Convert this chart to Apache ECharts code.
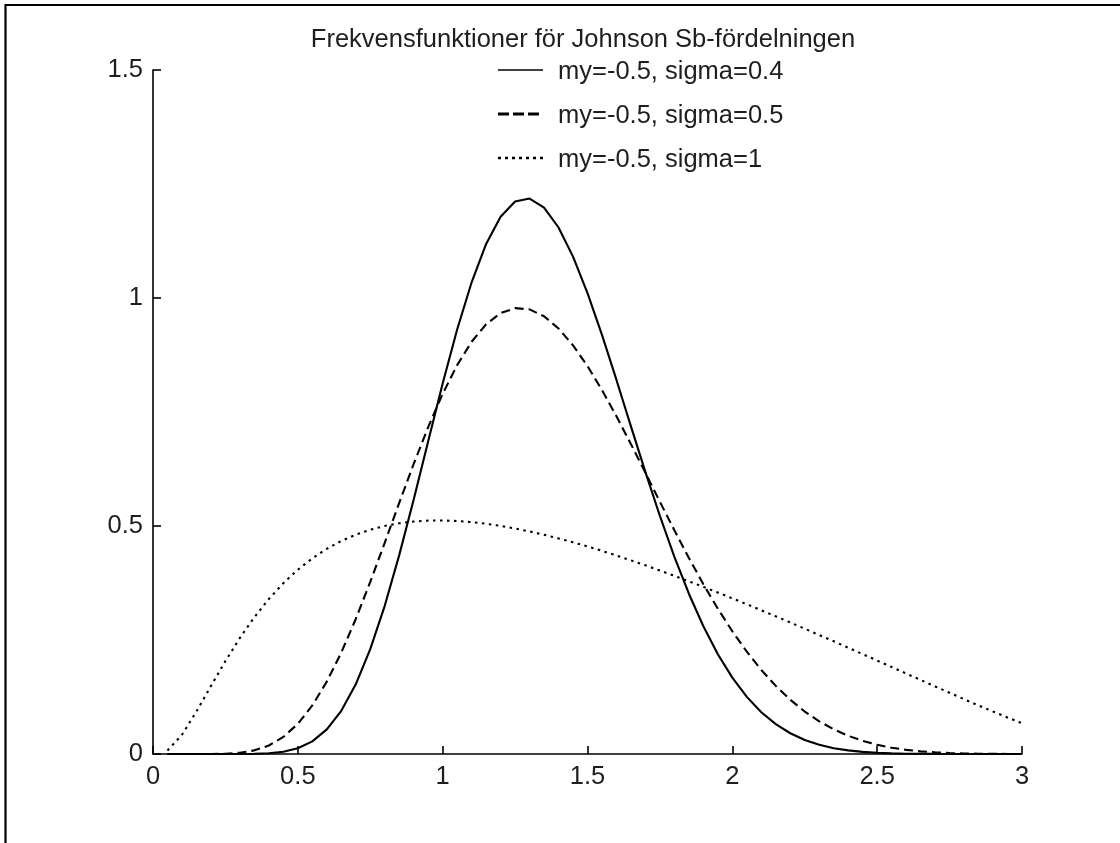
<!DOCTYPE html>
<html>
<head>
<meta charset="utf-8">
<script src="https://cdn.jsdelivr.net/npm/echarts@6/dist/echarts.min.js"></script>
<style>
  html, body { margin: 0; padding: 0; background: #ffffff; }
  #chart { width: 1120px; height: 843px; }
</style>
</head>
<body>
<div id="chart"></div>
<script>
// ---- data ----
const titleText = 'Frekvensfunktioner för Johnson Sb-fördelningen';
const seriesNames = ['my=-0.5, sigma=0.4', 'my=-0.5, sigma=0.5', 'my=-0.5, sigma=1'];

const xValues = [
  0.05, 0.10, 0.15, 0.20, 0.25, 0.30, 0.35, 0.40, 0.45, 0.50,
  0.55, 0.60, 0.65, 0.70, 0.75, 0.80, 0.85, 0.90, 0.95, 1.00,
  1.05, 1.10, 1.15, 1.20, 1.25, 1.30, 1.35, 1.40, 1.45, 1.50,
  1.55, 1.60, 1.65, 1.70, 1.75, 1.80, 1.85, 1.90, 1.95, 2.00,
  2.05, 2.10, 2.15, 2.20, 2.25, 2.30, 2.35, 2.40, 2.45, 2.50,
  2.55, 2.60, 2.65, 2.70, 2.75, 2.80, 2.85, 2.90, 2.95, 3.00
];

const sigma04 = [
  0, 0, 0, 0, 0, 0.0001, 0.0004, 0.0016, 0.0049, 0.0126,
  0.0278, 0.0540, 0.0948, 0.1529, 0.2299, 0.3250, 0.4361, 0.5581, 0.6859, 0.8124,
  0.9308, 1.0345, 1.1185, 1.1782, 1.2116, 1.2180, 1.1982, 1.1546, 1.0908, 1.0107,
  0.9190, 0.8203, 0.7186, 0.6182, 0.5219, 0.4323, 0.3515, 0.2801, 0.2188, 0.1674,
  0.1253, 0.0916, 0.0654, 0.0455, 0.0308, 0.0202, 0.0128, 0.0079, 0.0047, 0.0027,
  0.0014, 0.0007, 0.0004, 0.0002, 0.0001, 0, 0, 0, 0, 0
];

const sigma05 = [
  0, 0, 0, 0.0001, 0.0007, 0.0027, 0.0080, 0.0187, 0.0374, 0.0661,
  0.1065, 0.1588, 0.2224, 0.2961, 0.3773, 0.4632, 0.5507, 0.6361, 0.7168, 0.7898,
  0.8529, 0.9041, 0.9424, 0.9669, 0.9777, 0.9751, 0.9599, 0.9331, 0.8962, 0.8506,
  0.7982, 0.7407, 0.6795, 0.6166, 0.5531, 0.4905, 0.4300, 0.3724, 0.3186, 0.2691,
  0.2243, 0.1843, 0.1493, 0.1189, 0.0931, 0.0717, 0.0541, 0.0399, 0.0288, 0.0202,
  0.0138, 0.0091, 0.0058, 0.0036, 0.0021, 0.0012, 0.0006, 0.0003, 0.0001, 0.0001
];

const sigma1 = [
  0.0076, 0.0421, 0.0931, 0.1490, 0.2038, 0.2545, 0.3000, 0.3400, 0.3746, 0.4041,
  0.4291, 0.4500, 0.4672, 0.4810, 0.4919, 0.5001, 0.5060, 0.5098, 0.5118, 0.5122,
  0.5110, 0.5085, 0.5049, 0.5002, 0.4945, 0.4881, 0.4808, 0.4728, 0.4642, 0.4551,
  0.4454, 0.4352, 0.4247, 0.4137, 0.4024, 0.3907, 0.3787, 0.3665, 0.3540, 0.3413,
  0.3284, 0.3152, 0.3019, 0.2884, 0.2747, 0.2610, 0.2471, 0.2331, 0.2190, 0.2049,
  0.1907, 0.1765, 0.1623, 0.1482, 0.1342, 0.1202, 0.1065, 0.0931, 0.0800, 0.0674
];

// ---- chart ----
const FONT = '"Liberation Sans", Arial, Helvetica, sans-serif';
const TXT = '#1e1e1e';
const FS = 25.5;

function pairs(ys) { return xValues.map((x, i) => [x, ys[i]]); }

// line styles for the three curves and their legend swatches
const curveStyles = [
  { width: 2.1, dash: null },
  { width: 2.1, dash: [9, 5] },
  { width: 2.1, dash: [2.5, 4.5] }
];
const swatchStyles = [
  { width: 1.4, dash: null },
  { width: 3, dash: [11, 4] },
  { width: 2.3, dash: [3, 4] }
];

const chart = echarts.init(document.getElementById('chart'), null, { renderer: 'canvas' });

const axisCommon = {
  type: 'value',
  axisLine: { show: true, onZero: false, lineStyle: { color: '#000', width: 1.6 } },
  axisTick: { show: true, inside: true, length: 8, lineStyle: { color: '#000', width: 1.6 } },
  splitLine: { show: false },
  axisLabel: { color: TXT, fontSize: FS, fontFamily: FONT, margin: 10 }
};

// legend drawn as graphic elements (MATLAB-style legend without box)
const legendLeft = 498, legendTop = 70, legendRow = 44, swatchLen = 45, textGap = 15, textShift = 2;
const legendGraphics = [];
seriesNames.forEach((name, i) => {
  const cy = legendTop + i * legendRow;
  legendGraphics.push({
    type: 'line',
    shape: { x1: legendLeft, y1: cy, x2: legendLeft + swatchLen, y2: cy },
    style: { stroke: '#000', lineWidth: swatchStyles[i].width, lineDash: swatchStyles[i].dash },
    silent: true
  });
  legendGraphics.push({
    type: 'text',
    x: legendLeft + swatchLen + textGap,
    y: cy + textShift,
    style: { text: name, font: FS + 'px ' + FONT, fill: TXT, align: 'left', verticalAlign: 'middle' },
    silent: true
  });
});

chart.setOption({
  animation: false,
  backgroundColor: '#ffffff',
  grid: { left: 153, right: 98, top: 70, bottom: 89, containLabel: false },
  xAxis: Object.assign({}, axisCommon, { min: 0, max: 3, interval: 0.5 }),
  yAxis: Object.assign({}, axisCommon, { min: 0, max: 1.5, interval: 0.5 }),
  legend: { show: false },
  graphic: [
    {
      type: 'polyline',
      shape: { points: [[5.5, 843], [5.5, 5], [1120, 5]] },
      style: { stroke: '#000', lineWidth: 2.2, fill: null },
      silent: true
    },
    {
      type: 'text',
      x: 583,
      y: 40,
      style: { text: titleText, font: FS + 'px ' + FONT, fill: TXT, align: 'center', verticalAlign: 'middle' },
      silent: true
    }
  ].concat(legendGraphics),
  series: seriesNames.map((name, i) => ({
    name: name,
    type: 'line',
    data: pairs([sigma04, sigma05, sigma1][i]),
    symbol: 'none',
    smooth: false,
    lineStyle: { color: '#000', width: curveStyles[i].width, type: curveStyles[i].dash || 'solid' },
    itemStyle: { color: '#000' }
  }))
});
</script>
</body>
</html>
